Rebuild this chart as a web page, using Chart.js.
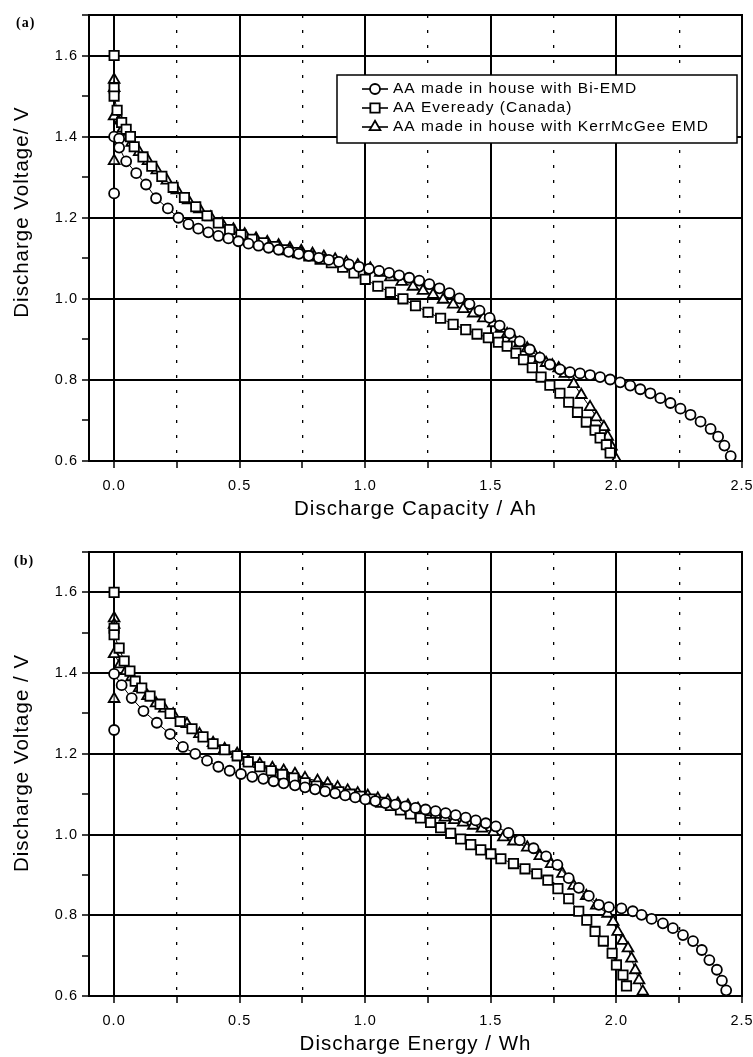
<!DOCTYPE html>
<html>
<head>
<meta charset="utf-8">
<script src="https://cdn.jsdelivr.net/npm/chart.js@4.4.1/dist/chart.umd.min.js"></script>
<style>
  html, body { margin: 0; padding: 0; background: #fff; }
  #wrap { position: relative; width: 753px; height: 1057px; overflow: hidden; }
  canvas { position: absolute; left: 0; }
</style>
</head>
<body>
<div id="wrap">
  <canvas id="chartA" width="753" height="530" style="top:0"></canvas>
  <canvas id="chartB" width="753" height="527" style="top:530px"></canvas>
</div>
<script>
// series names (legend order)
const seriesNames = ['AA made in house with Bi-EMD', 'AA Eveready (Canada)', 'AA made in house with KerrMcGee EMD'];

// (a) discharge capacity / Ah  vs  voltage / V
const aBiX = [0, 0, 0.02, 0.02, 0.048, 0.088, 0.127, 0.167, 0.214, 0.256, 0.296, 0.335, 0.375, 0.415, 0.455, 0.495, 0.535, 0.575, 0.615, 0.655, 0.695, 0.735, 0.775, 0.815, 0.855, 0.895, 0.935, 0.975, 1.015, 1.055, 1.095, 1.135, 1.175, 1.215, 1.255, 1.295, 1.335, 1.375, 1.415, 1.455, 1.495, 1.535, 1.575, 1.615, 1.655, 1.695, 1.735, 1.775, 1.815, 1.855, 1.895, 1.935, 1.975, 2.015, 2.055, 2.095, 2.135, 2.175, 2.215, 2.255, 2.295, 2.335, 2.375, 2.405, 2.43, 2.455];
const aBiY = [1.26, 1.40, 1.395, 1.373, 1.339, 1.31, 1.282, 1.248, 1.223, 1.20, 1.184, 1.173, 1.164, 1.155, 1.149, 1.142, 1.136, 1.131, 1.126, 1.121, 1.116, 1.111, 1.106, 1.101, 1.096, 1.091, 1.085, 1.079, 1.074, 1.069, 1.064, 1.058, 1.052, 1.045, 1.036, 1.026, 1.014, 1.001, 0.987, 0.971, 0.953, 0.934, 0.915, 0.895, 0.875, 0.855, 0.838, 0.826, 0.819, 0.816, 0.812, 0.807, 0.801, 0.794, 0.786, 0.777, 0.767, 0.755, 0.743, 0.729, 0.714, 0.697, 0.679, 0.66, 0.638, 0.612];

const aEvX = [0, 0, 0, 0.012, 0.03, 0.048, 0.065, 0.08, 0.115, 0.15, 0.19, 0.235, 0.28, 0.325, 0.37, 0.415, 0.46, 0.505, 0.55, 0.595, 0.64, 0.685, 0.73, 0.775, 0.82, 0.865, 0.91, 0.955, 1.0, 1.05, 1.1, 1.15, 1.2, 1.25, 1.3, 1.35, 1.4, 1.445, 1.49, 1.53, 1.565, 1.6, 1.63, 1.665, 1.70, 1.735, 1.775, 1.81, 1.845, 1.88, 1.915, 1.935, 1.96, 1.975];
const aEvY = [1.60, 1.52, 1.50, 1.465, 1.435, 1.418, 1.40, 1.375, 1.35, 1.327, 1.302, 1.275, 1.25, 1.227, 1.205, 1.187, 1.171, 1.158, 1.147, 1.138, 1.129, 1.121, 1.114, 1.106, 1.098, 1.089, 1.078, 1.064, 1.048, 1.031, 1.016, 1.0, 0.983, 0.967, 0.952, 0.937, 0.924, 0.913, 0.904, 0.893, 0.883, 0.866, 0.85, 0.83, 0.807, 0.787, 0.767, 0.745, 0.72, 0.696, 0.676, 0.657, 0.64, 0.62];

const aKmX = [0, 0, 0, 0, 0.024, 0.035, 0.05, 0.07, 0.10, 0.135, 0.17, 0.21, 0.25, 0.295, 0.34, 0.385, 0.43, 0.475, 0.52, 0.565, 0.61, 0.655, 0.70, 0.745, 0.79, 0.835, 0.88, 0.925, 0.97, 1.02, 1.06, 1.10, 1.145, 1.19, 1.23, 1.27, 1.31, 1.35, 1.39, 1.43, 1.47, 1.51, 1.54, 1.565, 1.59, 1.615, 1.645, 1.67, 1.695, 1.72, 1.745, 1.77, 1.795, 1.83, 1.86, 1.895, 1.92, 1.95, 1.965, 1.98, 2.0];
const aKmY = [1.34, 1.54, 1.52, 1.45, 1.44, 1.42, 1.40, 1.385, 1.362, 1.34, 1.317, 1.292, 1.268, 1.243, 1.221, 1.201, 1.185, 1.171, 1.159, 1.149, 1.140, 1.132, 1.125, 1.118, 1.111, 1.104, 1.097, 1.090, 1.083, 1.075, 1.064, 1.053, 1.042, 1.030, 1.020, 1.010, 0.998, 0.986, 0.975, 0.964, 0.952, 0.94, 0.926, 0.913, 0.902, 0.891, 0.878, 0.866, 0.853, 0.842, 0.836, 0.829, 0.815, 0.79, 0.763, 0.733, 0.708, 0.684, 0.66, 0.636, 0.603];

// (b) discharge energy / Wh  vs  voltage / V
const bBiX = [0, 0, 0.03, 0.07, 0.117, 0.17, 0.223, 0.274, 0.323, 0.37, 0.415, 0.46, 0.505, 0.55, 0.594, 0.635, 0.675, 0.72, 0.76, 0.80, 0.84, 0.88, 0.92, 0.96, 1.0, 1.04, 1.08, 1.12, 1.16, 1.20, 1.24, 1.28, 1.32, 1.36, 1.40, 1.44, 1.48, 1.52, 1.57, 1.615, 1.67, 1.72, 1.765, 1.81, 1.85, 1.89, 1.93, 1.97, 2.02, 2.065, 2.10, 2.14, 2.185, 2.225, 2.265, 2.305, 2.34, 2.37, 2.40, 2.42, 2.437];
const bBiY = [1.259, 1.398, 1.37, 1.338, 1.306, 1.277, 1.249, 1.217, 1.20, 1.183, 1.168, 1.158, 1.15, 1.143, 1.138, 1.132, 1.127, 1.122, 1.117, 1.112, 1.107, 1.102, 1.097, 1.092, 1.087, 1.083, 1.078, 1.074, 1.070, 1.066, 1.062, 1.058, 1.053, 1.048, 1.042, 1.035, 1.028, 1.02, 1.004, 0.986, 0.966, 0.946, 0.925, 0.892, 0.868, 0.848, 0.826, 0.82, 0.817, 0.81, 0.801, 0.791, 0.78, 0.768, 0.751, 0.736, 0.714, 0.689, 0.665, 0.638, 0.614];

const bEvX = [0, 0, 0, 0.02, 0.04, 0.063, 0.084, 0.11, 0.143, 0.183, 0.223, 0.263, 0.31, 0.354, 0.394, 0.44, 0.49, 0.534, 0.58, 0.625, 0.67, 0.715, 0.76, 0.805, 0.85, 0.895, 0.94, 0.98, 1.02, 1.06, 1.10, 1.14, 1.18, 1.22, 1.26, 1.30, 1.34, 1.38, 1.42, 1.46, 1.50, 1.54, 1.59, 1.636, 1.683, 1.727, 1.767, 1.81, 1.85, 1.882, 1.915, 1.948, 1.983, 2.0, 2.026, 2.04];
const bEvY = [1.60, 1.511, 1.495, 1.462, 1.43, 1.405, 1.38, 1.363, 1.343, 1.323, 1.30, 1.28, 1.262, 1.242, 1.225, 1.21, 1.195, 1.18, 1.168, 1.158, 1.149, 1.140, 1.128, 1.12, 1.113, 1.106, 1.100, 1.095, 1.088, 1.080, 1.072, 1.061, 1.051, 1.041, 1.030, 1.017, 1.003, 0.989, 0.975, 0.962, 0.952, 0.94, 0.928, 0.915, 0.903, 0.887, 0.866, 0.841, 0.81, 0.788, 0.76, 0.736, 0.706, 0.677, 0.652, 0.625];

const bKmX = [0, 0, 0, 0, 0.024, 0.048, 0.07, 0.10, 0.133, 0.167, 0.20, 0.235, 0.29, 0.34, 0.394, 0.44, 0.49, 0.534, 0.58, 0.63, 0.675, 0.72, 0.76, 0.81, 0.85, 0.89, 0.93, 0.97, 1.01, 1.05, 1.09, 1.13, 1.17, 1.21, 1.246, 1.28, 1.317, 1.355, 1.39, 1.43, 1.465, 1.51, 1.55, 1.59, 1.645, 1.695, 1.74, 1.785, 1.83, 1.88, 1.92, 1.965, 1.987, 2.005, 2.025, 2.046, 2.06, 2.075, 2.09, 2.105];
const bKmY = [1.336, 1.536, 1.52, 1.447, 1.422, 1.405, 1.39, 1.363, 1.343, 1.325, 1.312, 1.298, 1.274, 1.249, 1.227, 1.212, 1.20, 1.183, 1.175, 1.165, 1.158, 1.15, 1.14, 1.133, 1.126, 1.117, 1.109, 1.102, 1.096, 1.089, 1.084, 1.077, 1.072, 1.064, 1.056, 1.049, 1.042, 1.036, 1.03, 1.022, 1.015, 1.006, 0.993, 0.983, 0.968, 0.947, 0.927, 0.903, 0.873, 0.848, 0.824, 0.804, 0.784, 0.759, 0.737, 0.718, 0.693, 0.664, 0.639, 0.611];

// axis ranges and ticks
const xMin = -0.1, xMax = 2.5;
const yMin = 0.6, yMax = 1.7;
const xMinorLines = [0.25, 0.75, 1.25, 1.75, 2.25];

Chart.defaults.font.family = '"Liberation Sans", Arial, Helvetica, sans-serif';
Chart.defaults.color = '#000';

const markers = [
  { pointStyle: 'circle', pointRadius: 5 },
  { pointStyle: 'rect', pointRadius: 6.6 },
  { pointStyle: 'triangle', pointRadius: 6.2 }
];

function onStep(v, step) {
  const r = v / step;
  return Math.abs(r - Math.round(r)) < 1e-6;
}

function makeDatasets(sets) {
  return sets.map((s, i) => ({
    label: seriesNames[i],
    data: s[0].map((x, j) => ({ x: x, y: s[1][j] })),
    showLine: true,
    borderColor: '#000',
    borderWidth: 1,
    backgroundColor: '#fff',
    pointBackgroundColor: '#fff',
    pointBorderColor: '#000',
    pointBorderWidth: 1.8,
    pointStyle: markers[i].pointStyle,
    pointRadius: markers[i].pointRadius,
    tension: 0
  }));
}

// wider tracking, like the scanned lettering
const spacingPlugin = {
  id: 'spacing',
  beforeLayout(chart) { chart.ctx.letterSpacing = '1px'; },
  beforeDraw(chart) { chart.ctx.letterSpacing = '1px'; }
};
Chart.register(spacingPlugin);

const framePlugin = {
  id: 'frame',
  afterDatasetsDraw(chart) {
    const { ctx, chartArea: a } = chart;
    ctx.save();
    ctx.strokeStyle = '#000';
    ctx.lineWidth = 2;
    ctx.strokeRect(a.left, a.top, a.right - a.left, a.bottom - a.top);
    ctx.restore();
  }
};

// panel tag "(a)"/"(b)" and the rotated voltage title, which sits above the axis middle
const panelText = {
  id: 'panelText',
  afterDraw(chart, args, o) {
    const ctx = chart.ctx;
    ctx.save();
    ctx.fillStyle = '#000';
    ctx.textBaseline = 'middle';
    ctx.textAlign = 'left';
    ctx.font = 'bold 14px "Liberation Serif", "Times New Roman", serif';
    ctx.fillText(o.tag, o.tagX, o.tagY);
    ctx.translate(o.titleX, o.titleY);
    ctx.rotate(-Math.PI / 2);
    ctx.textAlign = 'center';
    ctx.font = '20.5px "Liberation Sans", Arial, sans-serif';
    ctx.fillText(o.title, 0, 0);
    ctx.restore();
  }
};

function marker(ctx, ds, x, y) {
  const opts = { pointStyle: ds.pointStyle, radius: ds.pointRadius, rotation: 0, borderWidth: ds.pointBorderWidth };
  if (Chart.helpers && Chart.helpers.drawPoint) {
    Chart.helpers.drawPoint(ctx, opts, x, y);
    return;
  }
  ctx.beginPath();
  ctx.arc(x, y, ds.pointRadius, 0, Math.PI * 2);
  ctx.fill();
  ctx.stroke();
}

const boxLegend = {
  id: 'boxLegend',
  afterDatasetsDraw(chart, args, o) {
    const ctx = chart.ctx;
    ctx.save();
    ctx.fillStyle = '#fff';
    ctx.fillRect(o.left, o.top, o.width, o.height);
    ctx.strokeStyle = '#000';
    ctx.lineWidth = 1.5;
    ctx.strokeRect(o.left, o.top, o.width, o.height);
    ctx.font = '15.5px "Liberation Sans", Arial, sans-serif';
    ctx.textBaseline = 'middle';
    chart.data.datasets.forEach((ds, i) => {
      const y = o.top + o.firstRow + i * o.rowGap;
      ctx.strokeStyle = '#000';
      ctx.lineWidth = 1.6;
      ctx.beginPath();
      ctx.moveTo(o.lineStart, y);
      ctx.lineTo(o.lineEnd, y);
      ctx.stroke();
      ctx.fillStyle = '#fff';
      ctx.lineWidth = ds.pointBorderWidth;
      marker(ctx, ds, (o.lineStart + o.lineEnd) / 2, y);
      ctx.fillStyle = '#000';
      ctx.fillText(ds.label, o.textX, y);
    });
    ctx.restore();
  }
};

function makeOptions(xTitle, padTop, axisHeight, titlePad, text) {
  return {
    responsive: false,
    animation: false,
    layout: { padding: { left: 0, right: 11, top: padTop, bottom: 0 } },
    plugins: {
      legend: { display: false },
      tooltip: { enabled: false },
      panelText: text,
      boxLegend: { left: 337, top: 75, width: 400, height: 68, firstRow: 14, rowGap: 19, lineStart: 362, lineEnd: 388, textX: 393 }
    },
    scales: {
      x: {
        type: 'linear',
        min: xMin,
        max: xMax,
        ticks: {
          stepSize: 0.25,
          includeBounds: false,
          autoSkip: false,
          maxRotation: 0,
          padding: 9,
          font: { size: 14.5 },
          color: '#000',
          callback: v => onStep(v, 0.5) ? v.toFixed(1) : ''
        },
        grid: {
          color: c => (c.tick && onStep(c.tick.value, 0.5)) ? '#000' : 'rgba(0,0,0,0)',
          lineWidth: c => (c.tick && onStep(c.tick.value, 0.5)) ? 2 : 0,
          tickColor: '#000',
          tickWidth: 1.5,
          tickLength: 7
        },
        border: { color: '#000', width: 2 },
        title: { display: true, text: xTitle, color: '#000', font: { size: 20.5 }, padding: { top: 0, bottom: titlePad } },
        afterFit: s => { s.height = axisHeight; s.paddingLeft = 0; s.paddingRight = 0; }
      },
      xDots: {
        type: 'linear',
        axis: 'x',
        position: 'bottom',
        min: xMin,
        max: xMax,
        ticks: { display: false },
        afterBuildTicks: s => { s.ticks = xMinorLines.map(v => ({ value: v })); },
        grid: { color: '#000', lineWidth: 1.3, drawTicks: false },
        border: { display: false, dash: [3, 12] },
        afterFit: s => { s.height = 0; s.paddingLeft = 0; s.paddingRight = 0; }
      },
      y: {
        type: 'linear',
        min: yMin,
        max: yMax,
        ticks: {
          stepSize: 0.1,
          includeBounds: false,
          autoSkip: false,
          padding: 4,
          font: { size: 14.5 },
          color: '#000',
          callback: v => onStep(v, 0.2) ? v.toFixed(1) : ''
        },
        grid: {
          color: c => (c.tick && onStep(c.tick.value, 0.2)) ? '#000' : 'rgba(0,0,0,0)',
          lineWidth: c => (c.tick && onStep(c.tick.value, 0.2)) ? 2 : 0,
          tickColor: '#000',
          tickWidth: 1.5,
          tickLength: 7
        },
        border: { color: '#000', width: 2 },
        title: { display: false },
        afterFit: s => { s.width = 89; s.paddingTop = 0; s.paddingBottom = 0; }
      }
    }
  };
}

new Chart(document.getElementById('chartA'), {
  type: 'scatter',
  data: { datasets: makeDatasets([[aBiX, aBiY], [aEvX, aEvY], [aKmX, aKmY]]) },
  options: makeOptions('Discharge Capacity / Ah', 15, 69, 8,
    { tag: '(a)', tagX: 16, tagY: 23, title: 'Discharge Voltage/ V', titleX: 22, titleY: 212 }),
  plugins: [framePlugin, panelText, boxLegend]
});

new Chart(document.getElementById('chartB'), {
  type: 'scatter',
  data: { datasets: makeDatasets([[bBiX, bBiY], [bEvX, bEvY], [bKmX, bKmY]]) },
  options: makeOptions('Discharge Energy / Wh', 22, 61, 0,
    { tag: '(b)', tagX: 14, tagY: 31, title: 'Discharge Voltage / V', titleX: 22, titleY: 233 }),
  plugins: [framePlugin, panelText]
});
</script>
</body>
</html>
